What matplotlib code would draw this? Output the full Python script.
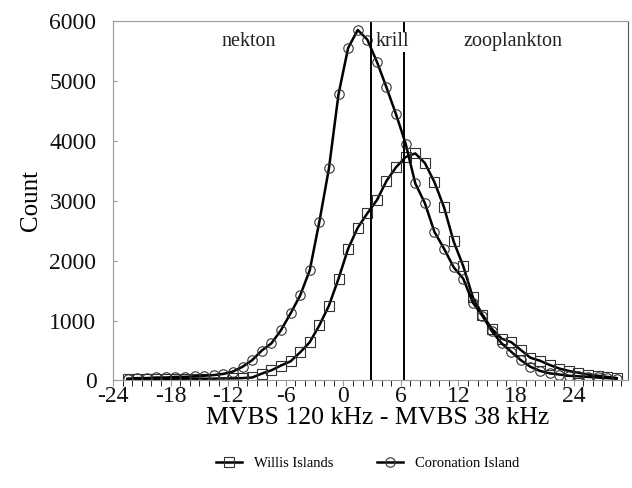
import matplotlib
matplotlib.use("Agg")
import matplotlib.pyplot as plt
import numpy as np

# bin centres (MVBS 120 kHz - MVBS 38 kHz, dB)
bins = np.arange(-22.5, 29.0, 1.0)

willis = [20, 20, 25, 25, 25, 30, 30, 30, 30, 30, 35, 35, 40,
          50, 115, 170, 250, 320, 470, 640, 920, 1250, 1700,
          2200, 2550, 2790, 3010, 3330, 3560, 3730, 3790, 3630,
          3310, 2890, 2320, 1910, 1390, 1100, 860, 700, 640, 510,
          380, 330, 260, 200, 160, 130, 100, 80, 60, 40]

coronation = [30, 40, 40, 50, 50, 60, 60, 70, 80, 90, 110, 150,
              230, 340, 500, 620, 840, 1120, 1420, 1840, 2650, 3540,
              4780, 5550, 5850, 5690, 5320, 4890, 4440, 3950, 3290,
              2960, 2480, 2200, 1890, 1700, 1300, 1080, 820, 620, 480,
              340, 230, 160, 120, 100, 80, 70, 60, 50, 40, 30]

boundaries = [2.9, 6.35]
regions = ["nekton", "krill", "zooplankton"]
region_x = [-9.9, 5.1, 17.7]
xticks = list(range(-24, 25, 6))
yticks = list(range(0, 6001, 1000))

GREY = "#9a9a9a"
plt.rcParams["font.family"] = ["Liberation Serif", "DejaVu Serif"]
plt.rcParams["axes.unicode_minus"] = False

fig = plt.figure(figsize=(6.32, 4.88), dpi=100)
ax = fig.add_axes([0.179, 0.2203, 0.815, 0.7367])

ax.plot(bins, willis, color="black", linewidth=1.8, marker="s", markersize=6.8,
        markerfacecolor="none", markeredgecolor="#333333", markeredgewidth=0.8,
        label="Willis Islands")
ax.plot(bins, coronation, color="black", linewidth=1.8, marker="o", markersize=6.8,
        markerfacecolor="none", markeredgecolor="#333333", markeredgewidth=0.8,
        label="Coronation Island")

for b in boundaries:
    ax.axvline(b, color="black", linewidth=1.4)

for name, xpos in zip(regions, region_x):
    ax.text(xpos, 5650, name, ha="center", va="center", fontsize=14.5,
            color="#222222", bbox=dict(facecolor="white", edgecolor="none", pad=0.5)
            if name == "krill" else None)

ax.set_xlim(-24, 29.7)
ax.set_ylim(0, 6000)
ax.set_xticks(xticks)
ax.set_xticks(np.arange(-24, 30, 1), minor=True)
ax.set_yticks(yticks)
ax.tick_params(axis="both", labelsize=17, colors=GREY, labelcolor="#111111")
ax.tick_params(axis="x", which="both", length=4, direction="out", pad=0)
ax.tick_params(axis="y", length=3, direction="in", pad=12)

for side in ["left", "top", "bottom"]:
    ax.spines[side].set_color(GREY)
ax.spines["right"].set_color("#555555")

ax.set_ylabel("Count", fontsize=18, labelpad=5)
ax.set_xlabel("MVBS 120 kHz - MVBS 38 kHz", fontsize=18.5)
ax.xaxis.set_label_coords(0.513, -0.073)

fig.legend(loc="lower center", bbox_to_anchor=(0.581, 0.01), ncol=2, frameon=False,
           fontsize=10.5, handlelength=1.8, columnspacing=3.0)

fig.savefig("out.png", dpi=100)
